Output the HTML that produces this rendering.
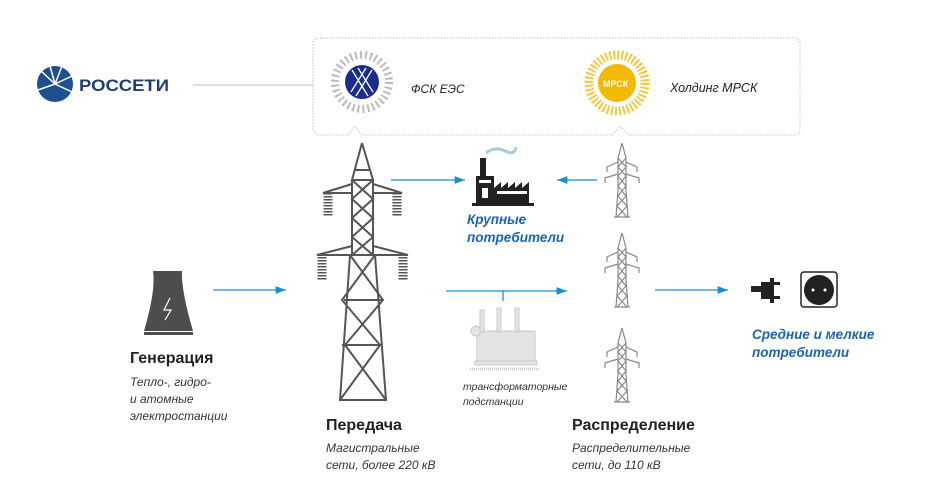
<!DOCTYPE html>
<html><head><meta charset="utf-8"><style>
body{margin:0;background:#fff;width:940px;height:500px;overflow:hidden;font-family:"Liberation Sans","Noto Sans CJK SC",sans-serif}
.t{position:absolute;white-space:nowrap}
.h{font-weight:bold;font-size:16px;color:#222}
.s{font-style:italic;font-size:12px;color:#333;line-height:17px}
.b{font-style:italic;font-weight:bold;font-size:13.5px;color:#1a64b8;line-height:18px}
</style></head><body>
<svg width="940" height="500" style="position:absolute;left:0;top:0">
<defs><marker id="a" markerWidth="8" markerHeight="6" refX="8" refY="3" orient="auto"><path d="M0,0 L8,3 L0,6z" fill="#1a8fd0"/></marker></defs>
<!-- frame -->
<path d="M321,38 H793 Q800,38 800,45 V128 Q800,135 793,135 H628 L620,126 L612,135 H362 L355,126 L348,135 H320 Q313,135 313,128 V45 Q313,38 321,38z" fill="none" stroke="#c4c4c4" stroke-dasharray="1.5,1.5"/>
<line x1="193" y1="85" x2="313" y2="85" stroke="#bbb"/>
<!-- rosseti logo -->
<circle cx="55" cy="84" r="18" fill="#1d4f91"/>
<g stroke="#fff" stroke-width="1.5"><line x1="55" y1="84" x2="40" y2="70"/><line x1="55" y1="84" x2="50" y2="66"/><line x1="55" y1="84" x2="62" y2="66"/><line x1="55" y1="84" x2="72" y2="76"/><line x1="55" y1="84" x2="38" y2="90"/><line x1="55" y1="84" x2="72" y2="92"/></g>
<text x="79" y="91" font-family="Liberation Sans" font-weight="bold" font-size="17" fill="#1d3f73" textLength="90" lengthAdjust="spacingAndGlyphs">РОССЕТИ</text>
<!-- FSK logo -->
<circle cx="362" cy="82" r="27" fill="none" stroke="#bbb" stroke-width="8" stroke-dasharray="2,3"/>
<circle cx="362" cy="82" r="17" fill="#1a2d8f"/>
<g stroke="#fff" stroke-width="1.3"><line x1="352" y1="70" x2="368" y2="96"/><line x1="372" y1="70" x2="356" y2="96"/><line x1="358" y1="68" x2="373" y2="92"/><line x1="366" y1="68" x2="351" y2="92"/></g>
<!-- MRSK logo -->
<circle cx="617" cy="83" r="28" fill="none" stroke="#f5c842" stroke-width="9" stroke-dasharray="2,2"/>
<circle cx="617" cy="83" r="19" fill="#f3b800"/>
<text x="603" y="87" font-size="9" font-weight="bold" fill="#fff">МРСК</text>
<!-- arrows -->
<g stroke="#1a8fd0" stroke-width="1.3" fill="none">
<line x1="213" y1="290" x2="286" y2="290" marker-end="url(#a)"/>
<line x1="391" y1="180" x2="465" y2="180" marker-end="url(#a)"/>
<line x1="597" y1="180" x2="557" y2="180" marker-end="url(#a)"/>
<line x1="446" y1="291" x2="567" y2="291" marker-end="url(#a)"/>
<line x1="503" y1="291" x2="503" y2="301"/>
<line x1="655" y1="290" x2="728" y2="290" marker-end="url(#a)"/>
</g>
<!-- cooling tower -->
<path d="M153,271 H182 Q181,290 193,331 H144 Q156,290 153,271z" fill="#4d4d4d"/>
<rect x="144" y="332" width="49" height="3" fill="#4d4d4d"/>
<path d="M170,298 L164,310 L171,310 L165,320" stroke="#fff" fill="none" stroke-width="1.2"/>
<!-- big tower -->
<g stroke="#555" stroke-width="2" fill="none">
<path d="M362,143 L352,180 H373 L362,143 M352,180 V255 H373 V180 M352,180 L373,199 L352,218 L373,237 L352,255 M373,180 L352,199 L373,218 L352,237 L373,255 M355,170 H370"/>
<path d="M352,184 L323,193 H352 M373,184 L402,193 H373 M352,246 L317,255 H352 M373,246 L408,255 H373"/>
<path d="M350,255 L340,400 H386 L375,255 M350,255 L383,300 L345,345 L386,400 M375,255 L342,300 L380,345 L340,400 M344,300 H382 M342,345 H382"/>
</g>
<g stroke="#555" stroke-width="2" stroke-dasharray="1.5,1.5"><line x1="328" y1="193" x2="328" y2="217" stroke-width="9"/><line x1="397" y1="193" x2="397" y2="217" stroke-width="9"/><line x1="322" y1="257" x2="322" y2="280" stroke-width="9"/><line x1="403" y1="257" x2="403" y2="280" stroke-width="9"/></g>
<!-- small towers -->
<g id="st" stroke="#888" stroke-width="1.2" fill="none">
<path d="M622,143 L618,158 V190 L616,217 M622,143 L626,158 V190 L628,217 M618,158 L626,167 L618,176 L626,186 L618,196 L627,206 L617,217 M626,158 L618,167 L626,176 L618,186 L626,196 L617,206 L627,217 M618,162 L607,167 V172 M626,162 L637,167 V172 M618,174 L605,178 V183 M626,174 L639,178 V183 M614,217 H630"/>
</g>
<use href="#st" y="90"/><use href="#st" y="185"/>
<!-- factory -->
<g fill="#222"><rect x="480" y="158" width="6" height="20"/><rect x="476" y="176" width="18" height="28"/><path d="M494,188 L501,182 V188 L508,182 V188 L515,182 V188 L522,182 V188 L529,182 V204 H494z"/><rect x="472" y="203" width="62" height="3"/></g>
<g fill="#fff"><rect x="479" y="180" width="12" height="3"/><rect x="497" y="191" width="30" height="3"/><rect x="482" y="188" width="6" height="10"/></g>
<path d="M486,153 Q495,146 505,151 T516,147" stroke="#aac8dc" stroke-width="3" fill="none"/>
<!-- transformer -->
<g fill="#e4e4e4" stroke="#c8c8c8"><rect x="477" y="331" width="58" height="30"/><circle cx="476" cy="331" r="5"/><rect x="480" y="310" width="4" height="22"/><rect x="497" y="308" width="4" height="24"/><rect x="515" y="308" width="4" height="24"/><rect x="475" y="361" width="62" height="4"/></g>
<line x1="470" y1="369" x2="540" y2="369" stroke="#ccc" stroke-dasharray="1,1" stroke-width="3"/>
<!-- plug/socket -->
<rect x="751" y="286" width="10" height="6" fill="#222"/>
<path d="M761,282 H770 V278 H774 V303 H770 V299 H761z" fill="#222"/>
<rect x="774" y="282" width="6" height="3" fill="#222"/><rect x="774" y="296" width="6" height="3" fill="#222"/>
<rect x="801" y="272" width="36" height="35" rx="3" fill="#fff" stroke="#222" stroke-width="1.5"/>
<circle cx="819" cy="290" r="15" fill="#222"/><circle cx="813" cy="290" r="1.5" fill="#fff"/><circle cx="825" cy="290" r="1.5" fill="#fff"/>
</svg>
<div class="t" style="left:411px;top:82px;font-style:italic;font-size:12px;color:#222">ФСК ЕЭС</div>
<div class="t" style="left:670px;top:81px;font-style:italic;font-size:12.5px;color:#222">Холдинг МРСК</div>
<div class="t b" style="left:467px;top:211px">Крупные<br>потребители</div>
<div class="t b" style="left:752px;top:326px">Средние и мелкие<br>потребители</div>
<div class="t h" style="left:130px;top:350px">Генерация</div>
<div class="t s" style="left:130px;top:374px">Тепло-, гидро-<br>и атомные<br>электростанции</div>
<div class="t s" style="left:463px;top:380px;font-size:10.5px;line-height:15px">трансформаторные<br>подстанции</div>
<div class="t h" style="left:326px;top:417px">Передача</div>
<div class="t s" style="left:326px;top:440px">Магистральные<br>сети, более 220 кВ</div>
<div class="t h" style="left:572px;top:417px">Распределение</div>
<div class="t s" style="left:572px;top:440px">Распределительные<br>сети, до 110 кВ</div>
</body></html>
